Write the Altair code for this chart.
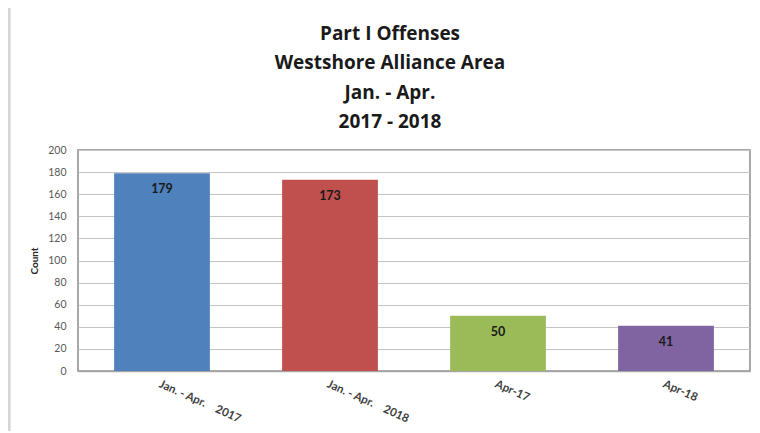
import altair as alt
import pandas as pd

NB = "\u00a0"
categories = ["Jan. - Apr." + NB * 4 + "2017", "Jan. - Apr." + NB * 4 + "2018", "Apr-17", "Apr-18"]
counts = [179, 173, 50, 41]
colors = ["#4F81BD", "#C0504D", "#9BBB59", "#8064A2"]
title_lines = ["Part I Offenses", "Westshore Alliance Area", "Jan. - Apr.", "2017 - 2018"]

df = pd.DataFrame({"cat": categories, "count": counts})
tdf = pd.DataFrame({"t": ["\n".join(title_lines)]})

FONT = "Lato"
W, H = 672, 221

x = alt.X("cat:N", sort=categories, title=None,
          scale=alt.Scale(paddingInner=0.43, paddingOuter=0.215),
          axis=alt.Axis(labelAngle=24, labelAlign="left", labelBaseline="top",
                        labelPadding=7, ticks=False, domainColor="#a6a6a6",
                        domainWidth=1.5, labelFont=FONT, labelFontSize=11.5,
                        labelFontWeight="bold", labelColor="#404040"))
y = alt.Y("count:Q", title="Count",
          scale=alt.Scale(domain=[0, 200], nice=False),
          axis=alt.Axis(tickCount=10, ticks=False, domain=False,
                        gridColor="#c4c4c4", gridWidth=1, labelOverlap=False,
                        labelFont=FONT, labelFontSize=10.5, labelColor="#595959",
                        labelPadding=12, titleFont=FONT, titleFontSize=10,
                        titleFontWeight="bold", titleColor="#262626",
                        titlePadding=8))

bars = alt.Chart(df).mark_bar().encode(
    x=x, y=y,
    color=alt.Color("cat:N", sort=categories,
                    scale=alt.Scale(domain=categories, range=colors), legend=None),
)

labels = alt.Chart(df).mark_text(
    dy=16, baseline="middle", font=FONT, fontSize=12.5, fontWeight="bold", color="#1a1a1a"
).encode(x=x, y=y, text="count:Q")

title = alt.Chart(tdf).mark_text(
    font="Open Sans", fontSize=19, fontWeight="bold", color="#1a1a1a", lineBreak="\n",
    lineHeight=29.3, align="center", baseline="middle", clip=False
).encode(x=alt.value(312), y=alt.value(-116), text="t:N")

frame_left = alt.Chart(df).mark_rule(color="#d6d6d6", strokeWidth=2.5, clip=False).encode(
    x=alt.value(-69), y=alt.value(-145), y2=alt.value(290))
frame_top = alt.Chart(df).mark_rule(color="#d6d6d6", strokeWidth=2.5, clip=False).encode(
    x=alt.value(-70), x2=alt.value(700), y=alt.value(-144))

chart = alt.layer(frame_left, frame_top, bars, labels, title).properties(
    width=W, height=H,
    autosize=alt.AutoSizeParams(type="none"),
    padding={"left": 70, "top": 142, "right": 2, "bottom": 60},
).configure_view(stroke="#8c8c8c", strokeWidth=1.5)

chart.save("out.html", embed_options={"renderer": "svg", "actions": False})
